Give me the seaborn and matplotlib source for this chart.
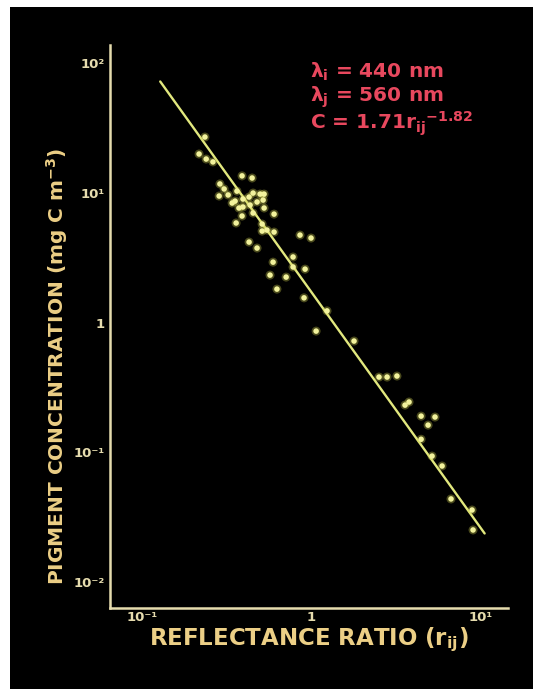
import matplotlib
matplotlib.use("Agg")
import matplotlib.pyplot as plt
import numpy as np
import pandas as pd
import seaborn as sns
from matplotlib.patches import Rectangle

# reflectance ratio r_ij and pigment concentration C (mg C m-3)
ratio = [0.235, 0.217, 0.239, 0.262, 0.389, 0.446, 0.288, 0.305, 0.285, 0.322,
         0.363, 0.354, 0.394, 0.428, 0.452, 0.497, 0.525, 0.518, 0.477, 0.434,
         0.394, 0.373, 0.340, 0.525, 0.601, 0.389, 0.452, 0.511, 0.359, 0.546,
         0.511, 0.601, 0.428, 0.477, 0.593, 0.569, 0.625, 0.778, 0.778, 0.916,
         0.708, 0.903, 1.234, 1.064, 1.781, 2.50, 2.79, 3.19, 3.56, 3.76,
         4.43, 5.35, 4.87, 4.43, 5.14, 5.89, 6.65, 8.85, 8.97, 0.855, 0.993]
conc = [26.9, 19.9, 18.2, 17.3, 13.5, 13.0, 11.7, 10.7, 9.44, 9.62,
        10.3, 8.63, 8.95, 9.27, 9.95, 9.77, 9.77, 8.79, 8.49, 8.05,
        7.77, 7.63, 8.34, 7.63, 6.85, 6.62, 6.98, 5.74, 5.85, 5.16,
        5.07, 4.98, 4.17, 3.75, 2.92, 2.32, 1.81, 3.20, 2.68, 2.58,
        2.24, 1.55, 1.23, 0.859, 0.720, 0.380, 0.380, 0.387, 0.231, 0.244,
        0.190, 0.187, 0.162, 0.126, 0.0935, 0.0784, 0.0437, 0.0359, 0.0252, 4.72, 4.48]

# fitted power law shown on the chart: C = 1.71 r^-1.82
fit_a = 1.71
fit_b = -1.82
fit_range = [0.128, 10.5]

x_ticks = [0.1, 1, 10]
x_ticklabels = ["10\u207b\u00b9", "1", "10\u00b9"]
y_ticks = [0.01, 0.1, 1, 10, 100]
y_ticklabels = ["10\u207b\u00b2", "10\u207b\u00b9", "1", "10\u00b9", "10\u00b2"]

df = pd.DataFrame({"ratio": ratio, "conc": conc})
fit_r = np.geomspace(fit_range[0], fit_range[1], 50)
df_fit = pd.DataFrame({"ratio": fit_r, "conc": fit_a * fit_r ** fit_b})

sns.set_theme(style="white")
plt.rcParams["font.family"] = ["DejaVu Sans"]
plt.rcParams["font.weight"] = "bold"
plt.rcParams["mathtext.fontset"] = "custom"
plt.rcParams["mathtext.rm"] = "DejaVu Sans:bold"
plt.rcParams["mathtext.it"] = "DejaVu Sans:bold"
plt.rcParams["mathtext.bf"] = "DejaVu Sans:bold"

axis_col = "#e6dcae"
label_col = "#eccf86"
red_col = "#e8485e"

W, H = 533, 689
fig = plt.figure(figsize=(W / 100, H / 100), dpi=100, facecolor="white")
fig.patches.append(Rectangle((10 / W, 0), 1 - 10 / W, (H - 7) / H,
                             transform=fig.transFigure, facecolor="black",
                             edgecolor="none", zorder=-5))

ax = fig.add_axes([110 / W, 81 / H, (508 - 110) / W, (608 - 45) / H])
ax.set_zorder(2)
ax.set_facecolor("black")
ax.set_xscale("log")
ax.set_yscale("log")

sns.lineplot(data=df_fit, x="ratio", y="conc", ax=ax, color="#e2e87e", lw=1.7, zorder=2)
# soft glow under the dots
sns.scatterplot(data=df, x="ratio", y="conc", ax=ax, color="#d0d050", s=42,
                alpha=0.35, edgecolor="none", zorder=3)
sns.scatterplot(data=df, x="ratio", y="conc", ax=ax, color="#f2f29c", s=16,
                edgecolor="none", zorder=4)

ax.set_xlim(10 ** -1.189, 10 ** 1.159)
ax.set_ylim(10 ** -2.2, 10 ** 2.139)

for side in ["top", "right"]:
    ax.spines[side].set_visible(False)
for side in ["left", "bottom"]:
    ax.spines[side].set_color(axis_col)
    ax.spines[side].set_linewidth(1.8)

ax.set_xticks(x_ticks)
ax.set_xticklabels(x_ticklabels)
ax.set_yticks(y_ticks)
ax.set_yticklabels(y_ticklabels)
ax.minorticks_off()
ax.tick_params(axis="both", direction="in", length=6, width=1.6, color=axis_col,
               labelcolor=axis_col, labelsize=9.5)
ax.tick_params(axis="x", pad=2)
ax.tick_params(axis="y", pad=4)

ax.set_xlabel("REFLECTANCE RATIO (r$_{ij}$)", color=label_col, fontsize=16.5,
              fontweight="bold")
ax.xaxis.set_label_coords(0.5, -0.031)
ax.set_ylabel("PIGMENT CONCENTRATION (mg C m$^{-3}$)", color=label_col, fontsize=14.5,
              fontweight="bold")
ax.yaxis.set_label_coords(-0.1, 0.43)

fig.text(310 / W, 1 - 72 / H, r"$\lambda_{\mathrm{i}}$ = 440 nm", color=red_col,
         fontsize=14.5, va="center", ha="left")
fig.text(310 / W, 1 - 97 / H, r"$\lambda_{\mathrm{j}}$ = 560 nm", color=red_col,
         fontsize=14.5, va="center", ha="left")
fig.text(310 / W, 1 - 124 / H, r"C = 1.71r$_{\mathrm{ij}}$$^{-1.82}$", color=red_col,
         fontsize=14.5, va="center", ha="left")

fig.savefig("out.png", dpi=100, facecolor="white")
